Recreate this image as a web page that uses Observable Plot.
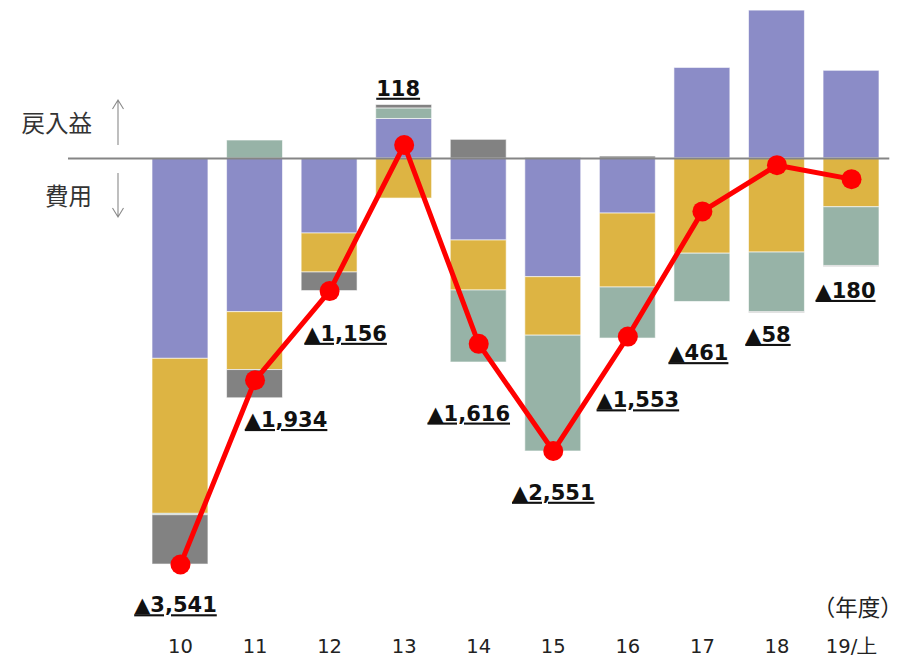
<!DOCTYPE html>
<html>
<head>
<meta charset="utf-8">
<script src="https://cdn.jsdelivr.net/npm/d3@7"></script>
<script src="https://cdn.jsdelivr.net/npm/@observablehq/plot@0.6"></script>
<style>
  html, body { margin: 0; padding: 0; background: #fff; }
  #wrap { position: relative; width: 906px; height: 658px; overflow: hidden; }
  #anno { position: absolute; left: 0; top: 0; pointer-events: none; }
</style>
</head>
<body>
<div id="wrap">
  <div id="chart"></div>
  <svg id="anno" width="906" height="658"></svg>
</div>
<script>
// ---- data ----
const years = ["10", "11", "12", "13", "14", "15", "16", "17", "18", "19/上"];
const seriesNames = ["A", "B", "C", "D"];
const seriesA = [-1747, -1340, -654, 345, -715, -1035, -480, 790, 1290, 765];   // purple
const seriesB = [-1352, -505, -340, -349, -436, -510, -645, -830, -820, -425];  // gold
const seriesC = [-12, 157, 0, 92, -628, -1010, -445, -421, -520, -512];         // sage green
const seriesD = [-430, -246, -162, 30, 163, 4, 17, 0, -8, -8];                  // gray
const netTotal = [-3541, -1934, -1156, 118, -1616, -2551, -1553, -461, -58, -180];

// ---- layout / style (not data) ----
const colors = ["#8b8cc7", "#ddb443", "#97b3a7", "#828282"];
const labelDx = [-5, 31, 16, -6, -10, 0, 10, -4, -9, -6];
const labelDy = [41, 40, 43, -56, 70, 42, 64, 142, 170, 112];

const seriesValues = [seriesA, seriesB, seriesC, seriesD];
const rows = [];
seriesNames.forEach((s, si) => {
  years.forEach((y, i) => {
    const v = seriesValues[si][i];
    if (v !== 0) rows.push({year: y, series: s, value: v});
  });
});
const points = years.map((y, i) => ({
  year: y,
  value: netTotal[i],
  label: netTotal[i] < 0 ? "▲" + d3.format(",")(-netTotal[i]) : d3.format(",")(netTotal[i]),
  dx: labelDx[i],
  dy: labelDy[i]
}));

const W = 906, H = 658;
const marginLeft = 142.7, marginRight = 17.7, marginTop = 10, marginBottom = 30;

const chart = Plot.plot({
  width: W,
  height: H,
  marginLeft, marginRight, marginTop, marginBottom,
  style: {fontFamily: "'DejaVu Sans', Verdana, sans-serif", background: "#fff"},
  x: {domain: years, paddingInner: 0.25, paddingOuter: 0.125, round: false, axis: null, label: null},
  y: {domain: [-4099, 1291], axis: null},
  color: {domain: seriesNames, range: colors},
  marks: [
    Plot.barY(rows, {
      x: "year", y: "value", fill: "series", order: null,
      stroke: "#ffffff", strokeWidth: 1, strokeOpacity: 0.6
    }),
    Plot.ruleY([0], {stroke: "#858585", strokeWidth: 2.2, insetLeft: -74.7, insetRight: -1}),
    Plot.line(points, {x: "year", y: "value", stroke: "#ff0000", strokeWidth: 5}),
    Plot.dot(points, {x: "year", y: "value", r: 10, fill: "#ff0000", stroke: "none"}),
    ...points.map(p => Plot.text([p], {
      x: "year", y: "value", text: "label",
      dx: p.dx, dy: p.dy,
      fontSize: 21, fontWeight: "bold", fill: "#111",
      textAnchor: "middle", lineAnchor: "middle"
    })),
    Plot.axisX({
      tickSize: 0, tickPadding: 11, fontSize: 19.5, color: "#222", label: null,
      fontFamily: "'DejaVu Sans', Verdana, sans-serif"
    }),
    Plot.text(["（年度）"], {
      frameAnchor: "bottom-right", textAnchor: "end", lineAnchor: "middle",
      dx: 14, dy: -19.5, fontSize: 22.5, fill: "#222",
      fontFamily: "'Noto Sans CJK JP', sans-serif"
    })
  ]
});
// underline the value labels
d3.select(chart).selectAll("text").filter(function () {
  const t = this.textContent;
  return points.some(p => p.label === t);
}).style("text-decoration", "underline")
  .style("text-decoration-thickness", "2px")
  .style("text-underline-offset", "3px");
document.getElementById("chart").appendChild(chart);

// annotation: 戻入益 ↑ / 費用 ↓
const anno = d3.select("#anno");
const jp = "'Noto Sans CJK JP', sans-serif";
anno.append("text").attr("x", 92).attr("y", 122).attr("text-anchor", "end")
  .attr("dominant-baseline", "central").attr("font-family", jp).attr("font-size", 23.5)
  .attr("fill", "#333").text("戻入益");
anno.append("text").attr("x", 92).attr("y", 195).attr("text-anchor", "end")
  .attr("dominant-baseline", "central").attr("font-family", jp).attr("font-size", 23.5)
  .attr("fill", "#333").text("費用");
const arrowStyle = s => s.attr("stroke", "#8a8a8a").attr("stroke-width", 1.1).attr("fill", "none");
arrowStyle(anno.append("path").attr("d", "M118,145 L118,100 M112.5,109 L118,100 L123.5,109"));
arrowStyle(anno.append("path").attr("d", "M118,173 L118,217 M112.5,208 L118,217 L123.5,208"));
</script>
</body>
</html>
